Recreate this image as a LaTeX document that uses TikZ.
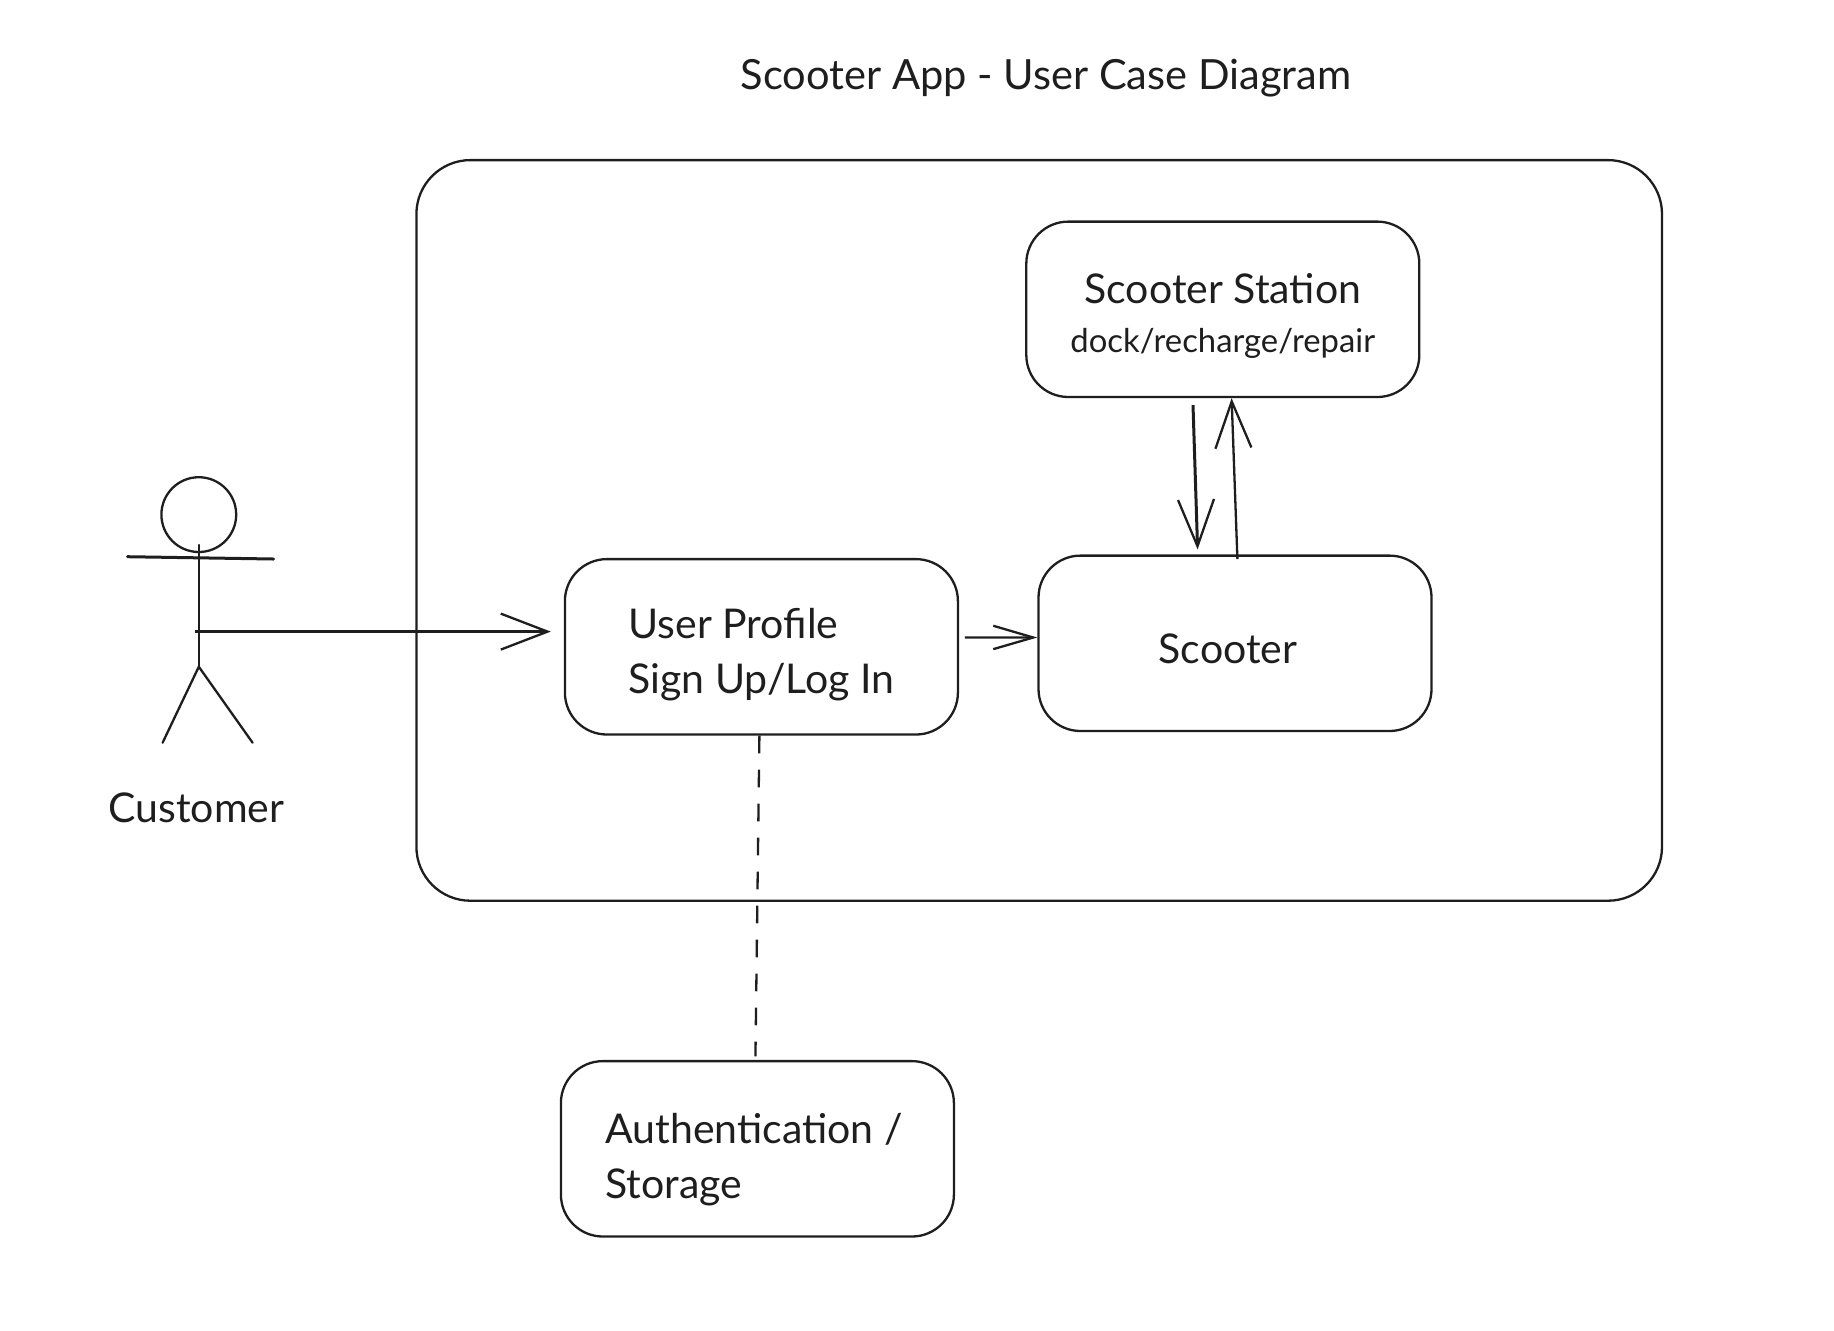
\documentclass[tikz,border=0pt]{standalone}
\usepackage{fontspec}
\setmainfont{Lato}
\usetikzlibrary{arrows.meta, positioning}
\definecolor{inkblack}{HTML}{1E1E1E}
\newcommand{\dropby}[1]{\rule{0pt}{#1}}

\begin{document}
\begin{tikzpicture}[x=0.5pt, y=-0.5pt, node distance=100pt, color=inkblack, text=inkblack]
\tikzstyle{usecase} = [rectangle, rounded corners=21pt, minimum width=196.5pt, minimum height=87.7pt, align=left, draw=inkblack, line width=1.15pt, font=\fontsize{20.5}{27.5}\selectfont]
\tikzstyle{flow} = [line width=1.15pt, -{Straight Barb[length=23.4pt, width=18pt, line width=1.15pt]}]
\tikzstyle{limb} = [line width=1.15pt, line cap=round]

\useasboundingbox (0,0) rectangle (1834,1330);

\node (title) at (1046,78.5) [font=\fontsize{20.8}{24}\selectfont] {Scooter App - User Case Diagram};
\node (system) at (1039.2,530.4) [rectangle, rounded corners=27pt, minimum width=622.8pt, minimum height=370.3pt, draw=inkblack, line width=1.15pt] {};

\node (user) at (761.4,646.8) [usecase] {\dropby{22.5pt}User Profile\\Sign Up/Log In};
\node (scooter) [usecase, right of=user, node distance=236.8pt, yshift=1.75pt] {\dropby{20.5pt}Scooter\hspace*{7pt}};
\node (station) [usecase, above of=scooter, node distance=167pt, xshift=-6.1pt, align=center] {\dropby{22pt}Scooter Station\\[-3pt]{\fontsize{16.4}{21}\selectfont dock/recharge/repair}};
\node (auth) [usecase, below of=user, node distance=251pt, xshift=-2pt] {\dropby{26pt}Authentication /\hspace*{3.5pt}\\Storage};

% stick figure
\node (head) at (198.8,514.6) [circle, minimum size=37.4pt, inner sep=0pt, draw=inkblack, line width=1.15pt] {};
\node (customer) at (196.5,808) [font=\fontsize{20.5}{24}\selectfont] {Customer};
\coordinate (shoulderL) at (127.5,556.7);
\coordinate (shoulderR) at (273.7,559);
\coordinate (neck) at (198.8,545);
\coordinate (hip) at (198.8,666.7);
\coordinate (footL) at (162.6,742.7);
\coordinate (footR) at (252.6,742.7);
\coordinate (hand) at (195.3,631.6);
\draw [limb, line width=1.5pt] (shoulderL) -- (shoulderR);
\draw [limb] (neck) -- (hip);
\draw [limb] (footL) -- (hip) -- (footR);

\draw [flow, line width=1.5pt, shorten >=6.5pt] (hand) -- (hand -| user.west);
\draw [flow, -{Straight Barb[length=20pt, width=11.7pt, line width=1.15pt]}] ([xshift=2.9pt, yshift=4.7pt]user.east) -- ([yshift=2.9pt]scooter.west);
\draw [flow, line width=1.5pt] ([xshift=-14.9pt, yshift=-3.5pt]station.south) -- ([xshift=-18.7pt, yshift=2.5pt]scooter.north);
\draw [flow] ([xshift=1.2pt, yshift=-2.3pt]scooter.north) -- ([xshift=4.4pt]station.south);
\draw [line width=1.15pt, dash pattern=on 8.8pt off 8.2pt, shorten >=1.8pt] ([xshift=-1pt]user.south) -- ([xshift=-1pt]auth.north);

\end{tikzpicture}
\end{document}
